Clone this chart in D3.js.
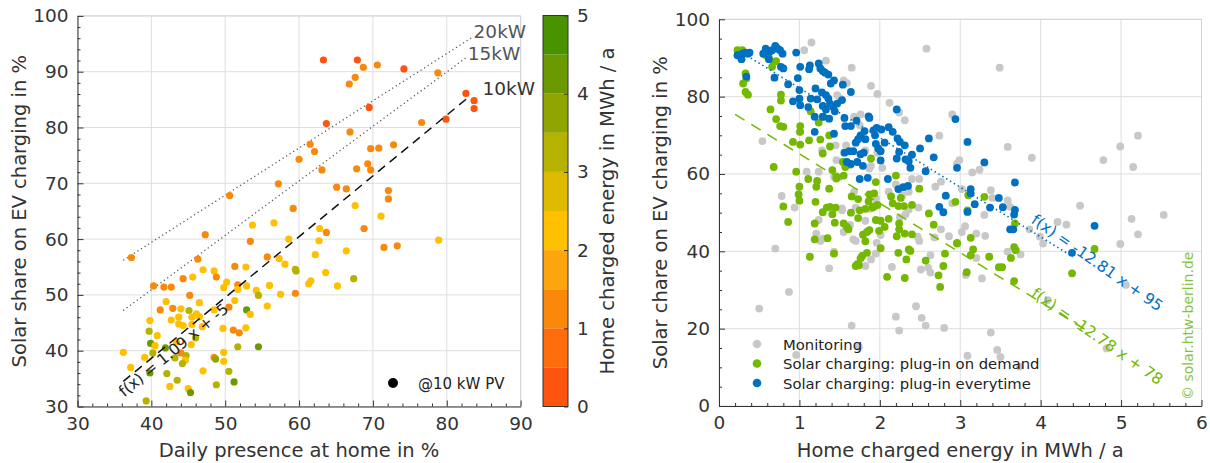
<!DOCTYPE html>
<html><head><meta charset="utf-8">
<script src="https://cdn.jsdelivr.net/npm/d3@7"></script>
<style>body{margin:0;background:#fff} svg{display:block}</style>
</head><body><svg id="c" width="1210" height="463"></svg>
<script>
// ---------------- LEFT PANEL DATA ----------------
const presence = [63.3,67.9,68.7,70.6,74.2,78.8,67.6,66.8,82.6,83.7,83.7,69.5,63.7,76.6,79.9,66.9,61.5,62.1,60.0,69.7,70.8,72.8,63.1,67.8,69.3,69.7,57.2,65.1,66.4,72.1,72.1,50.6,
59.2,67.6,71.1,53.7,56.6,62.8,63.7,68.8,47.3,53.4,58.6,62.7,78.9,71.5,73.3,37.3,46.3,55.7,57.3,62.2,66.4,58.1,59.5,59.6,63.6,67.4,65.2,61.3,61.6,44.3,45.6,47.0,48.5,48.8,51.3,52.8,50.2,49.8,51.7,51.7,52.9,54.2,54.5,56.0,57.5,59.5,55.7,
40.3,41.7,42.7,45.2,42.0,46.5,41.2,42.9,44.0,45.1,48.5,50.5,51.3,52.9,53.4,39.8,42.7,43.7,43.7,44.3,45.5,46.1,46.5,45.5,46.9,49.7,51.1,51.9,52.8,39.7,40.8,46.0,39.9,40.5,41.9,43.4,45.4,51.7,54.5,
36.2,39.1,40.2,44.0,43.2,44.7,44.6,44.2,37.2,39.8,42.1,43.5,42.5,45.0,45.3,39.3,47.0,48.8,48.5,48.7,49.8,49.8,50.5,51.2];
const solarShareL = [92.1,92.1,90.8,91.2,90.5,89.8,89.0,87.8,86.1,84.8,83.4,83.6,80.7,80.9,81.5,79.2,77.0,75.7,74.3,76.2,76.3,76.9,72.4,72.6,73.5,72.4,69.9,69.3,69.0,68.7,67.2,67.8,
65.5,66.0,64.1,62.5,62.9,61.9,61.2,61.9,60.8,59.6,60.0,59.7,59.8,58.5,58.8,56.7,56.4,56.8,56.5,57.2,57.9,55.5,54.6,54.3,54.0,52.9,51.6,52.0,52.5,52.9,53.2,54.5,54.3,53.2,55.1,55.0,52.3,51.3,51.8,51.0,51.6,50.8,49.9,51.7,50.1,50.3,48.0,
51.6,51.4,51.4,49.9,48.8,48.6,47.3,47.6,47.5,47.2,47.3,47.8,49.0,47.3,46.5,45.4,45.5,46.0,44.8,44.5,46.0,46.6,46.1,44.7,44.3,44.0,43.7,43.2,44.1,43.5,42.7,42.3,41.3,40.9,40.5,41.6,41.1,40.7,40.7,
39.7,38.8,39.6,39.6,38.7,39.1,38.3,37.7,37.0,36.0,35.9,34.7,33.6,33.2,32.5,31.0,36.4,33.9,38.8,38.5,39.7,38.1,36.3,34.4];
const homeEnergyL = [0.3,0.3,1.2,1.2,0.3,1.2,1.2,1.2,0.3,0.3,0.3,0.3,0.3,1.2,0.3,1.2,1.2,1.2,1.2,1.2,1.2,1.2,1.2,1.2,1.2,1.2,1.2,1.2,1.2,1.2,1.2,1.2,
1.2,2.2,2.2,2.2,2.2,2.2,1.2,1.2,1.2,1.2,2.2,2.2,2.2,1.2,1.2,1.2,1.2,1.2,2.2,2.2,2.2,2.2,3.2,3.2,2.2,3.2,2.2,2.2,2.2,1.2,2.2,2.2,2.2,1.2,1.2,2.2,2.2,2.2,1.2,2.2,2.2,2.2,3.2,2.2,2.2,1.2,2.2,
1.2,1.2,1.2,1.2,2.2,2.2,1.2,1.2,2.2,3.2,2.2,1.2,2.2,4.2,2.2,2.2,2.2,2.2,2.2,2.2,2.2,2.2,2.2,2.2,2.2,2.2,1.2,1.2,2.2,3.2,2.2,3.2,4.2,2.2,4.2,2.2,2.2,3.2,4.2,
2.2,2.2,3.2,1.2,3.2,3.2,2.2,3.2,2.2,4.2,3.2,3.2,2.2,2.2,4.2,3.2,2.2,3.2,1.2,3.7,2.2,2.2,3.2,4.2];
// fit / reference lines (endpoints)
const fit10X = [36.2, 83.2], fit10Y = [34.5, 85.7];
const fit15X = [36.2, 82.7], fit15Y = [47.2, 92.6];
const fit20X = [36.2, 83.5], fit20Y = [56.2, 96.2];
const colorBands = ['#ff5310','#ff6c0c','#fa890b','#fca50f','#ffc000','#dfbb00','#b6b200','#91a500','#6b9a00','#4a9300'];
const xTicksL = [30,40,50,60,70,80,90], yTicksL = [30,40,50,60,70,80,90,100];
const cbTicks = [0,1,2,3,4,5];

// ---------------- RIGHT PANEL DATA ----------------
const monX = [1.15,1.06,1.33,1.65,2.58,1.55,1.59,1.89,1.97,1.47,1.51,2.12,2.24,2.31,1.76,1.68,0.54,1.00,1.28,1.45,1.46,1.58,1.75,1.82,1.89,2.03,1.97,2.74,2.90,2.99,2.96,1.09,1.24,1.43,1.68,1.87,2.20,2.28,2.36,2.40,2.49,2.69,2.76,3.02,0.78,0.94,1.53,1.70,1.95,2.11,
0.70,0.87,0.50,1.37,1.43,1.24,1.26,1.21,1.29,1.53,1.55,1.63,1.67,1.70,1.82,1.89,1.82,1.96,1.95,2.01,1.88,2.15,2.25,2.32,2.36,2.48,2.47,2.49,2.51,2.60,2.63,2.63,2.68,2.76,2.86,2.90,3.02,3.06,3.07,2.45,2.20,2.52,2.57,2.24,2.80,1.65,1.74,0.96,3.09,
3.49,3.59,3.15,3.24,3.89,3.38,3.40,3.59,3.62,3.30,3.20,3.31,3.59,3.75,3.20,3.27,3.86,3.99,4.03,4.21,4.32,4.49,4.78,4.99,5.15,5.21,5.13,5.21,4.99,5.53,5.06,4.09,4.82,3.38,3.46,3.50,3.74];
const monY = [94.0,92.0,89.3,87.5,92.4,84.2,83.5,82.8,80.7,80.4,79.5,78.4,75.9,73.9,75.4,74.8,68.5,70.9,66.1,67.4,63.6,67.4,72.6,66.1,62.1,61.6,65.5,69.9,75.4,63.6,62.7,60.6,60.6,59.3,55.4,61.4,57.3,54.5,55.4,58.7,58.7,56.7,58.0,56.1,54.3,51.3,51.1,51.3,53.7,55.4,
40.7,29.5,25.2,35.6,39.9,48.1,42.7,44.6,43.3,50.6,45.0,46.8,43.1,42.7,47.9,37.9,36.2,42.2,39.4,44.2,51.0,36.0,48.8,49.6,50.8,51.3,43.8,42.7,35.3,35.8,39.0,34.5,43.6,45.7,43.9,52.4,45.0,46.5,33.9,25.8,23.1,22.8,20.8,19.5,20.2,20.8,15.3,13.2,13.0,
87.5,67.0,60.4,61.1,64.2,55.8,53.8,53.2,51.5,49.4,44.6,44.0,39.9,39.2,38.3,33.0,45.7,43.8,42.0,47.6,46.9,51.8,63.6,67.1,61.8,69.9,48.4,44.4,41.9,49.4,31.3,27.4,14.9,19.0,14.5,12.7,10.2];
const demX = [0.23,0.29,0.58,0.62,0.68,0.66,0.71,0.33,0.34,0.30,0.33,0.36,0.77,0.77,0.64,0.71,0.76,0.80,1.01,1.01,0.92,1.01,1.12,1.14,1.24,1.26,1.30,1.37,1.38,1.29,0.68,0.96,1.11,1.22,1.41,1.46,1.55,1.57,1.63,1.54,1.89,1.00,1.21,1.37,1.46,0.99,1.00,1.20,1.65,1.73,1.87,1.93,1.95,2.20,2.49,2.94,2.26,2.14,
0.80,0.86,1.29,1.34,1.38,1.41,1.45,1.19,1.19,1.35,1.44,1.55,1.59,1.61,1.64,1.73,1.75,1.82,1.86,1.91,1.95,1.94,1.97,2.01,2.06,2.11,2.16,2.23,2.24,2.24,2.21,2.30,2.31,2.40,2.40,1.79,1.82,1.84,1.87,1.99,2.01,1.84,1.78,1.76,1.72,1.70,1.74,1.43,1.13,2.09,2.23,2.31,2.33,2.36,2.38,2.57,2.61,2.67,2.73,2.75,2.79,2.81,2.96,3.08,
3.10,3.30,3.13,3.16,3.13,2.96,3.36,3.48,3.52,3.63,3.67,3.69,3.67,3.68,4.39,4.67,3.09];
const demY = [92.0,92.0,90.7,90.0,89.0,87.7,89.2,86.0,84.7,83.4,81.2,80.5,80.5,79.0,76.7,74.2,72.4,72.2,72.4,70.9,68.3,67.6,68.7,76.2,73.3,68.9,74.8,70.0,67.1,65.3,61.8,60.6,58.7,58.2,61.0,59.4,59.6,61.8,62.4,63.1,64.0,56.7,56.7,56.2,58.8,54.7,53.1,52.8,54.2,53.5,54.7,55.0,57.9,59.6,56.2,52.8,53.8,54.2,
51.6,47.6,50.1,51.3,51.5,49.6,51.3,47.2,43.1,43.4,47.4,47.2,46.3,45.7,50.0,48.6,50.6,51.0,52.9,51.3,48.1,51.7,52.0,47.9,46.3,48.4,52.4,51.7,47.2,45.7,43.9,51.7,44.6,52.0,44.4,44.3,42.6,45.0,45.5,45.3,40.8,39.6,38.8,38.2,36.7,36.2,36.4,39.4,38.6,33.4,39.6,33.1,37.9,40.5,40.1,37.6,49.8,46.9,33.8,30.8,36.2,39.4,42.2,34.6,
54.5,54.1,43.5,40.5,39.0,42.0,38.6,35.9,35.9,38.3,41.1,40.3,32.3,47.2,34.3,40.6,50.6];
const everyX = [0.23,0.28,0.29,0.33,0.36,0.38,0.34,0.55,0.58,0.63,0.66,0.70,0.73,0.76,0.79,0.62,0.96,1.01,1.13,1.12,1.24,1.26,1.29,1.32,1.36,0.69,0.77,0.80,0.86,0.98,1.00,1.20,1.28,1.33,1.36,1.39,1.43,1.54,1.53,1.64,0.92,1.00,1.01,1.11,1.14,1.22,1.29,1.33,1.38,1.42,1.44,1.47,1.19,1.29,1.37,1.56,1.57,1.64,1.71,1.86,1.87,1.76,1.81,1.92,1.94,1.96,2.02,2.11,2.16,2.21,2.22,2.25,2.31,2.06,1.19,1.43,1.70,1.73,1.82,1.95,1.98,2.01,1.56,1.62,1.67,1.59,1.64,1.72,1.76,1.80,1.79,2.01,2.21,2.24,2.32,2.36,2.40,2.50,2.61,2.67,2.38,2.57,2.94,2.96,3.09,1.75,1.85,2.10,2.23,2.29,2.35,2.74,2.82,3.30,3.68,3.13,3.13,3.18,3.09,3.37,3.48,3.53,3.68,3.67,3.62,3.66,4.67,4.39,2.79];
const everyY = [90.7,89.7,91.1,91.4,91.1,91.4,85.2,91.1,92.4,91.6,92.0,93.1,92.4,92.0,91.1,89.7,91.4,87.7,88.1,87.1,88.6,87.3,86.6,86.2,85.7,84.9,87.7,87.3,83.2,84.8,81.7,82.1,81.1,80.4,79.5,83.4,84.2,83.1,79.1,81.2,78.8,79.5,77.8,77.3,79.5,79.3,77.6,76.7,78.2,77.3,76.2,78.2,74.8,74.8,74.3,74.5,72.4,72.4,73.8,74.9,74.5,70.0,71.1,71.3,70.0,71.9,71.5,72.1,70.9,76.7,69.2,68.3,67.4,68.1,70.9,70.4,68.1,69.0,69.0,67.8,66.6,65.9,65.5,65.9,65.9,63.1,62.6,63.1,65.1,65.5,62.1,63.5,64.0,65.7,63.8,63.3,65.0,66.6,69.2,64.3,61.6,60.7,74.2,61.6,68.3,58.7,59.0,58.7,56.1,56.6,56.9,51.5,54.4,63.0,57.8,56.1,55.0,52.2,50.2,51.3,53.8,51.4,50.7,49.5,45.7,45.7,46.6,39.6,50.1];
const fitEveryX = [0.30, 4.40], fitEveryY = [91.2, 38.6];
const fitDemX = [0.20, 4.60], fitDemY = [75.4, 19.2];
const xTicksR = [0,1,2,3,4,5,6], yTicksR = [0,20,40,60,80,100];
const legendLabels = ['Monitoring','Solar charging: plug-in on demand','Solar charging: plug-in everytime'];
const seriesColors = ['#c8c8c8','#74b800','#0070c0'];

// ---------------- DRAWING ----------------
const FONT = "'DejaVu Sans', Verdana, sans-serif";
const TXT = '#333';
const TICK_FS = 18.5, TITLE_FS = 19.5;
const svg = d3.select('#c').attr('font-family', FONT);

const xL = d3.scaleLinear([30,90],[77.5,520.6]);
const yL = d3.scaleLinear([30,100],[406.5,15.9]);
const xR = d3.scaleLinear([0,6],[719,1201.5]);
const yR = d3.scaleLinear([0,100],[406,19.3]);
const yC = d3.scaleLinear([0,5],[406.5,15.5]);
const colorL = d3.scaleQuantize([0,5], colorBands);

function range(a,b,s){const r=[];for(let v=a;v<=b+1e-9;v+=s)r.push(+v.toFixed(4));return r;}

function frame(x,y,xt,yt){
  const g = svg.append('g');
  const [x0,x1]=x.range(), [y0,y1]=y.range();
  g.selectAll('.gx').data(xt).join('line').attr('x1',d=>x(d)).attr('x2',d=>x(d)).attr('y1',y0).attr('y2',y1).attr('stroke','#dedede');
  g.selectAll('.gy').data(yt).join('line').attr('y1',d=>y(d)).attr('y2',d=>y(d)).attr('x1',x0).attr('x2',x1).attr('stroke','#dedede');
  g.append('path').attr('d',`M${x0},${y1}H${x1}V${y0}`).attr('fill','none').attr('stroke','#d4d4d4');
}
function styleAxis(s){
  s.attr('font-family',FONT).attr('font-size',TICK_FS);
  s.selectAll('text').attr('fill',TXT);
  s.selectAll('line,path').attr('stroke','#333');
}
function axes(x,y,xt,xm,yt,ym){
  const [x0]=x.range(), [y0]=y.range();
  const isMinor = (t,arr)=>!arr.some(v=>Math.abs(v-t)<1e-6);
  svg.append('g').attr('transform',`translate(0,${y0})`)
    .call(d3.axisBottom(x).tickValues(xm.filter(t=>isMinor(t,xt))).tickSize(-3).tickSizeOuter(0).tickFormat(''))
    .call(s=>s.select('.domain').remove()).call(styleAxis);
  svg.append('g').attr('transform',`translate(${x0},0)`)
    .call(d3.axisLeft(y).tickValues(ym.filter(t=>isMinor(t,yt))).tickSize(-3).tickSizeOuter(0).tickFormat(''))
    .call(s=>s.select('.domain').remove()).call(styleAxis);
  svg.append('g').attr('transform',`translate(0,${y0})`)
    .call(d3.axisBottom(x).tickValues(xt).tickSize(-6).tickSizeOuter(0).tickPadding(10).tickFormat(d3.format('d')))
    .call(styleAxis);
  svg.append('g').attr('transform',`translate(${x0},0)`)
    .call(d3.axisLeft(y).tickValues(yt).tickSize(-6).tickSizeOuter(0).tickPadding(9).tickFormat(d3.format('d')))
    .call(styleAxis);
}

// ---- left panel ----
frame(xL,yL,xTicksL,yTicksL);
const refLines = [
  {x:fit20X,y:fit20Y,dash:'1.2,3',color:'#555',w:1.3},
  {x:fit15X,y:fit15Y,dash:'1.2,3',color:'#555',w:1.3}
];
refLines.forEach(r=>{
  svg.append('line').attr('x1',xL(r.x[0])).attr('y1',yL(r.y[0])).attr('x2',xL(r.x[1])).attr('y2',yL(r.y[1]))
    .attr('stroke',r.color).attr('stroke-width',r.w).attr('stroke-dasharray',r.dash);
});
const leftPts = presence.map((p,i)=>({x:p,y:solarShareL[i],e:homeEnergyL[i]}));
svg.append('g').selectAll('circle').data(leftPts).join('circle')
  .attr('cx',d=>xL(d.x)).attr('cy',d=>yL(d.y)).attr('r',3.6).attr('fill',d=>colorL(d.e));
svg.append('line').attr('x1',xL(fit10X[0])).attr('y1',yL(fit10Y[0])).attr('x2',xL(fit10X[1])).attr('y2',yL(fit10Y[1]))
  .attr('stroke','#111').attr('stroke-width',1.5).attr('stroke-dasharray','9,6');
// labels of lines
svg.append('text').attr('x',xL(fit20X[1])+1).attr('y',yL(fit20Y[1])+1).attr('font-size',18.5).attr('fill','#555').text('20kW');
svg.append('text').attr('x',xL(fit15X[1])+1).attr('y',yL(fit15Y[1])+3).attr('font-size',18.5).attr('fill','#555').text('15kW');
svg.append('text').attr('x',xL(fit10X[1])+12).attr('y',yL(fit10Y[1])-1).attr('font-size',18.5).attr('fill','#333').text('10kW');
{
  const ang = Math.atan2(yL(fit10Y[1])-yL(fit10Y[0]), xL(fit10X[1])-xL(fit10X[0]))*180/Math.PI;
  const px = xL(fit10X[0])+1, py = yL(fit10Y[0])+16;
  svg.append('text').attr('transform',`translate(${px},${py}) rotate(${ang})`).attr('font-size',15.5).attr('fill','#222')
    .text('f(x) = 1.09 x + -5');
}
axes(xL,yL,xTicksL,range(30,90,2),yTicksL,range(30,100,2));
// legend @10 kW PV
svg.append('circle').attr('cx',393).attr('cy',383).attr('r',5).attr('fill','#000');
svg.append('text').attr('x',418).attr('y',388.5).attr('font-size',15).attr('fill','#222').text('@10 kW PV');
// axis titles
svg.append('text').attr('x',(xL.range()[0]+xL.range()[1])/2).attr('y',457).attr('text-anchor','middle').attr('font-size',TITLE_FS).attr('fill',TXT).text('Daily presence at home in %');
svg.append('text').attr('transform',`translate(26,${(yL.range()[0]+yL.range()[1])/2}) rotate(-90)`).attr('text-anchor','middle').attr('font-size',TITLE_FS).attr('fill',TXT).text('Solar share on EV charging in %');

// ---- colorbar ----
const cbX0 = 543, cbX1 = 568;
const bandVals = d3.range(10).map(i=>i*0.5);
svg.append('g').selectAll('rect').data(bandVals).join('rect')
  .attr('x',cbX0).attr('width',cbX1-cbX0).attr('y',d=>yC(d+0.5)).attr('height',d=>yC(d)-yC(d+0.5)).attr('fill',d=>colorL(d+0.25));
svg.append('rect').attr('x',cbX0).attr('y',yC(5)).attr('width',cbX1-cbX0).attr('height',yC(0)-yC(5)).attr('fill','none').attr('stroke','#333');
svg.append('g').attr('transform',`translate(${cbX1},0)`)
  .call(d3.axisRight(yC).tickValues(cbTicks).tickSize(-4).tickSizeOuter(0).tickPadding(9).tickFormat(d3.format('d')))
  .call(s=>s.select('.domain').remove()).call(styleAxis);
svg.append('text').attr('transform',`translate(614,${(yC.range()[0]+yC.range()[1])/2}) rotate(-90)`).attr('text-anchor','middle').attr('font-size',TITLE_FS).attr('fill',TXT).text('Home charged energy in MWh / a');

// ---- right panel ----
frame(xR,yR,xTicksR,yTicksR);
const series = [
  monX.map((v,i)=>({x:v,y:monY[i]})),
  demX.map((v,i)=>({x:v,y:demY[i]})),
  everyX.map((v,i)=>({x:v,y:everyY[i]}))
];
series.forEach((s,k)=>{
  svg.append('g').selectAll('circle').data(s).join('circle')
    .attr('cx',d=>xR(d.x)).attr('cy',d=>yR(d.y)).attr('r',3.9).attr('fill',seriesColors[k]);
});
svg.append('line').attr('x1',xR(fitDemX[0])).attr('y1',yR(fitDemY[0])).attr('x2',xR(fitDemX[1])).attr('y2',yR(fitDemY[1]))
  .attr('stroke',seriesColors[1]).attr('stroke-width',1.5).attr('stroke-dasharray','11,8');
svg.append('line').attr('x1',xR(fitEveryX[0])).attr('y1',yR(fitEveryY[0])).attr('x2',xR(fitEveryX[1])).attr('y2',yR(fitEveryY[1]))
  .attr('stroke',seriesColors[2]).attr('stroke-width',1.6).attr('stroke-dasharray','1.5,3');
svg.append('text').attr('transform',`translate(${xR(3.87)},${yR(47.5)}) rotate(35)`).attr('font-size',15.5).attr('fill',seriesColors[2]).text('f(x) = -12.81 x + 95');
svg.append('text').attr('transform',`translate(${xR(3.87)},${yR(28.5)}) rotate(35)`).attr('font-size',15.5).attr('fill',seriesColors[1]).text('f(x) = -12.78 x + 78');
axes(xR,yR,xTicksR,range(0,6,0.2),yTicksR,range(0,100,5));
// legend
legendLabels.forEach((t,i)=>{
  svg.append('circle').attr('cx',757).attr('cy',344+i*19.5).attr('r',4.3).attr('fill',seriesColors[i]);
  svg.append('text').attr('x',783).attr('y',349.5+i*19.5).attr('font-size',14.8).attr('fill','#222').text(t);
});
svg.append('text').attr('transform',`translate(1193,400) rotate(-90)`).attr('font-size',14).attr('fill','#86c440').text('© solar.htw-berlin.de');
svg.append('text').attr('x',(xR.range()[0]+xR.range()[1])/2).attr('y',457).attr('text-anchor','middle').attr('font-size',TITLE_FS).attr('fill',TXT).text('Home charged energy in MWh / a');
svg.append('text').attr('transform',`translate(667,${(yR.range()[0]+yR.range()[1])/2}) rotate(-90)`).attr('text-anchor','middle').attr('font-size',TITLE_FS).attr('fill',TXT).text('Solar chare on EV charging in %');
</script></body></html>
